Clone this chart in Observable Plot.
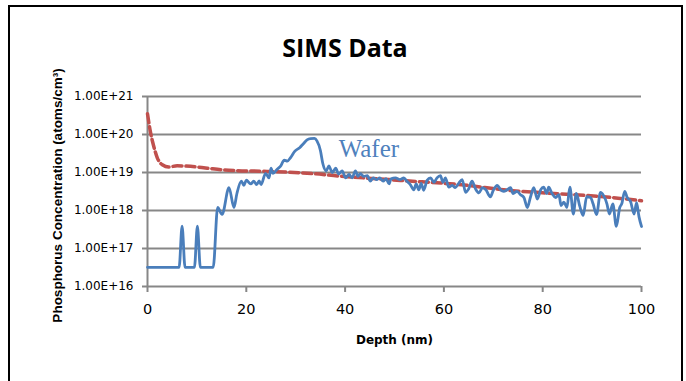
<!DOCTYPE html>
<html>
<head>
<meta charset="utf-8">
<script src="https://cdn.jsdelivr.net/npm/d3@7"></script>
<script src="https://cdn.jsdelivr.net/npm/@observablehq/plot@0.6"></script>
<style>
  html, body { margin: 0; padding: 0; background: #fff; width: 686px; height: 381px; overflow: hidden; }
  #box { position: absolute; left: 8px; top: 5px; width: 671px; height: 420px; border: 2px solid #000; }
  #title { position: absolute; left: 0; top: 30px; width: 690px; text-align: center;
           font-family: "Open Sans", sans-serif; font-weight: bold; font-size: 25px; color: #000; }
  #chart { position: absolute; left: 0; top: 0; }
</style>
</head>
<body>
<div id="box"></div>
<div id="title">SIMS Data</div>
<div id="chart"></div>
<script>
// Wafer SIMS profile (depth in nm, concentration atoms/cm^3)
const waferDepth = [0, 6.4, 7.0, 7.6, 9.5, 10.1, 10.7, 13.3, 14.2, 15.1, 16.5, 17.5, 18.1, 19.0, 19.5, 20.0, 20.9, 21.5, 22.1, 22.6, 23.0, 23.9, 24.6, 25.0, 25.4, 26.2, 26.9, 27.7, 28.3, 29.0, 29.8, 30.8, 31.6, 32.3, 33.0, 33.8, 34.3, 35.0, 35.5, 36.2, 36.7, 37.4, 38.1, 38.7, 39.4, 40.1, 40.8, 41.4, 42.1, 42.6, 43.1, 43.8, 44.5, 45.1, 45.7, 46.4, 47.0, 47.7, 48.3, 48.9, 49.3, 50.2, 51.1, 51.9, 52.5, 53.2, 53.9, 54.4, 54.9, 55.4, 55.9, 56.6, 57.3, 58.0, 58.6, 59.3, 59.8, 60.3, 61.0, 61.7, 62.3, 63.0, 63.7, 64.4, 65.0, 65.7, 66.4, 67.1, 67.8, 68.5, 69.4, 70.0, 70.8, 71.5, 72.1, 72.8, 73.5, 74.0, 74.8, 75.5, 76.2, 76.9, 77.5, 78.2, 78.9, 79.6, 80.2, 80.8, 81.2, 81.9, 82.6, 83.3, 83.7, 84.3, 84.9, 85.5, 86.2, 86.8, 87.5, 88.2, 88.9, 89.7, 90.2, 90.9, 91.7, 92.3, 93.0, 93.5, 94.2, 94.9, 95.6, 96.0, 96.6, 97.1, 97.8, 98.5, 99.0, 99.5, 100];
const waferConc = [3.2e16, 3.2e16, 3.9e17, 3.2e16, 3.2e16, 3.9e17, 3.2e16, 3.2e16, 1.2e18, 7.9e17, 4.0e18, 1.2e18, 2.8e18, 5.9e18, 4.6e18, 6.3e18, 5.0e18, 5.9e18, 4.8e18, 6.0e18, 4.8e18, 9.5e18, 7.2e18, 1.3e19, 9.5e18, 1.2e19, 1.45e19, 2.1e19, 2.0e19, 2.5e19, 3.6e19, 4.5e19, 5.8e19, 7.2e19, 7.8e19, 7.9e19, 6.8e19, 3.8e19, 1.7e19, 1.1e19, 1.5e19, 1.0e19, 1.3e19, 9.1e18, 1.1e19, 7.2e18, 8.9e18, 7.2e18, 1.1e19, 7.9e18, 9.3e18, 7.9e18, 8.3e18, 5.9e18, 7.2e18, 6.5e18, 7.2e18, 5.9e18, 6.9e18, 5.0e18, 6.8e18, 7.2e18, 6.5e18, 7.2e18, 5.9e18, 4.8e18, 3.5e18, 5.0e18, 3.5e18, 5.2e18, 3.4e18, 6.2e18, 7.2e18, 5.5e18, 7.2e18, 8.3e18, 5.5e18, 7.2e18, 4.1e18, 4.6e18, 4.0e18, 5.2e18, 6.5e18, 3.0e18, 3.7e18, 5.9e18, 3.7e18, 2.9e18, 4.0e18, 3.5e18, 2.3e18, 3.4e18, 4.6e18, 3.5e18, 3.2e18, 3.5e18, 4.0e18, 2.8e18, 3.2e18, 2.6e18, 2.2e18, 1.2e18, 2.2e18, 4.0e18, 2.0e18, 3.5e18, 4.1e18, 2.8e18, 4.1e18, 2.8e18, 2.2e18, 2.6e18, 1.35e18, 1.65e18, 1.2e18, 4.1e18, 8.1e17, 2.8e18, 1.3e18, 7.4e17, 2.3e18, 2.2e18, 1.5e18, 7.8e17, 3.0e18, 2.5e18, 1.5e18, 8.1e17, 1.5e18, 3.8e17, 1.2e18, 1.5e18, 3.2e18, 2.2e18, 1.7e18, 8.1e17, 1.6e18, 6.8e17, 3.8e17];

// Simulated / fitted profile (red dashed)
const fitDepth = [0, 0.6, 1.3, 2.0, 3.0, 4.3, 6.0, 8.7, 12.1, 15.4, 18.1, 24.2, 28.3, 33.7, 37.7, 51.2, 64.7, 72.1, 82.3, 92.3, 100];
const fitConc = [3.5e20, 1.15e20, 4.7e19, 2.4e19, 1.6e19, 1.4e19, 1.5e19, 1.45e19, 1.3e19, 1.17e19, 1.12e19, 1.07e19, 1.02e19, 9.3e18, 8.3e18, 6.2e18, 4.6e18, 3.5e18, 2.8e18, 2.3e18, 1.8e18];

// Axis ticks
const xTicks = [0, 20, 40, 60, 80, 100];
const yTicks = [1e16, 1e17, 1e18, 1e19, 1e20, 1e21];

// Series label
const seriesLabels = [{label: "Wafer", depth: 38.7, conc: 2.5e19}];

const wafer = waferDepth.map((d, i) => ({depth: d, conc: waferConc[i]}));
const fit = fitDepth.map((d, i) => ({depth: d, conc: fitConc[i]}));

const gridColor = "#878787";
const fmt = d => d.toExponential(2).toUpperCase();

const plot = Plot.plot({
  width: 686,
  height: 381,
  marginLeft: 147,
  marginRight: 45,
  marginTop: 96,
  marginBottom: 95,
  style: {background: "transparent", fontFamily: "DejaVu Sans, sans-serif", color: "#000"},
  x: {domain: [0, 100]},
  y: {type: "log", domain: [1e16, 1e21]},
  marks: [
    Plot.ruleY(yTicks, {y: d => d, stroke: gridColor, strokeWidth: 2}),
    Plot.ruleX([0], {stroke: gridColor, strokeWidth: 2}),
    Plot.axisY({ticks: yTicks, tickFormat: fmt, tickSize: 5, tickPadding: 9, fontSize: 12, stroke: gridColor, strokeWidth: 2, label: null}),
    Plot.axisX({ticks: xTicks, tickSize: 6, tickPadding: 11, fontSize: 14.5, stroke: gridColor, strokeWidth: 2, label: null}),
    Plot.line(fit, {x: "depth", y: "conc", stroke: "#C0504D", strokeWidth: 3.5, strokeDasharray: "9,4", curve: "monotone-x"}),
    Plot.line(wafer, {x: "depth", y: "conc", stroke: "#4A7EBB", strokeWidth: 2.8, curve: "monotone-x"}),
    Plot.text(seriesLabels, {x: "depth", y: "conc", text: "label", textAnchor: "start", lineAnchor: "bottom",
      fill: "#4F81BD", fontSize: 25, fontFamily: "Liberation Serif, serif"}),
    Plot.text(["Phosphorus Concentration (atoms/cm³)"], {frameAnchor: "left", dx: -90, dy: 4, rotate: -90, textAnchor: "middle", text: d => d,
      fontSize: 13.5, fontWeight: "bold", fontFamily: "Liberation Sans, Arial, sans-serif"}),
    Plot.text(["Depth (nm)"], {frameAnchor: "bottom", dy: 57, text: d => d,
      fontSize: 12, fontWeight: "bold", fontFamily: "DejaVu Sans, sans-serif"})
  ]
});
document.getElementById("chart").appendChild(plot);
</script>
</body>
</html>
